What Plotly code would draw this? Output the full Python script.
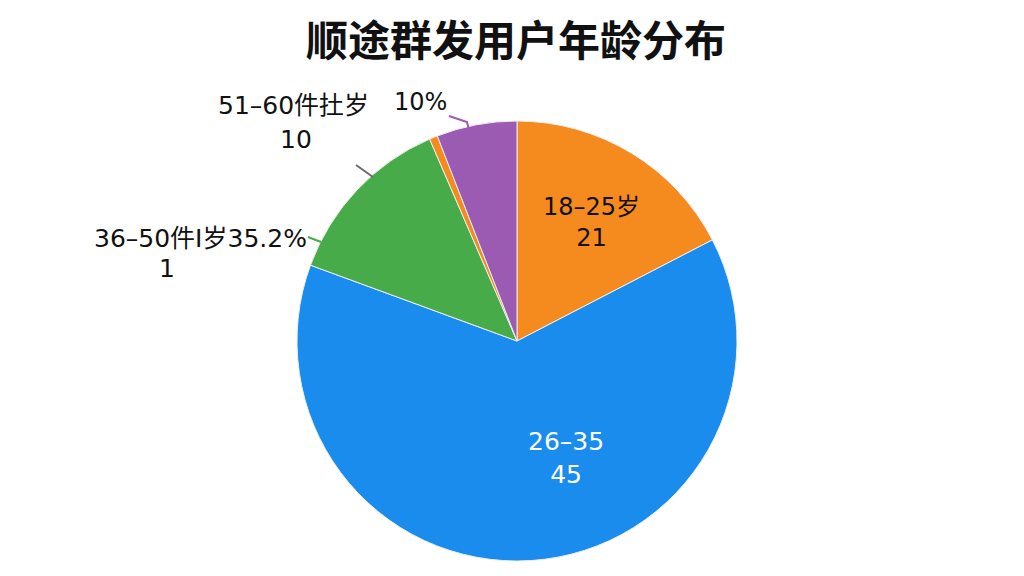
import plotly.graph_objects as go

# slices clockwise from 12 o'clock, shares
age_groups = ["18-25岁", "26-35", "36-50岁", "51-60岁", "其他"]
shares = [17.4, 63.2, 12.9, 0.6, 5.9]
colors = ["#F58A1F", "#1A8CEE", "#47AB4A", "#F58A1F", "#9C5BB3"]

W, H = 1024, 576
OFF = 8  # page body margin of the browser
FONT = "DejaVu Sans, Noto Sans CJK SC"


def px(x, y):
    # screen pixel -> paper coordinates
    return (x - OFF) / W, 1 - (y - OFF) / H


cx, cy, r = 517, 341, 220
x0, y1 = px(cx - r, cy - r)
x1, y0 = px(cx + r, cy + r)

fig = go.Figure(go.Pie(
    labels=age_groups, values=shares,
    sort=False, direction="clockwise", rotation=0,
    textinfo="none",
    marker=dict(colors=colors, line=dict(color="#eeeeee", width=1)),
    domain=dict(x=[x0, x1], y=[y0, y1]),
    showlegend=False, hoverinfo="label+percent",
))

# slice labels: (text, x, y, size, colour)
labels = [
    ("18–25岁<br>21", 591, 223, 24, "#111111"),
    ("26–35<br>45", 566, 458, 25, "#ffffff"),
    ("51–60件扗岁", 293, 105, 25, "#111111"), ("10", 296, 140, 25, "#111111"),
    ("10%", 420, 102, 24, "#111111"),
    ("36–50件I岁35.2%", 200, 238, 25, "#111111"), ("1", 167, 268, 25, "#111111"),
]
for txt, x, y, s, c in labels:
    ax, ay = px(x, y)
    fig.add_annotation(text=txt, x=ax, y=ay, xref="paper", yref="paper", showarrow=False,
                       xanchor="center", yanchor="middle",
                       font=dict(family=FONT, size=s, color=c))

leaders = [
    ([356, 373], [165, 177], "#6b6b6b"),
    ([449, 467, 469], [116, 122, 130], "#9C5BB3"),
    ([308, 321], [237, 242], "#47AB4A"),
]
for xs, ys, c in leaders:
    pts = [px(x, y) for x, y in zip(xs, ys)]
    path = "M " + " L ".join(f"{a},{b}" for a, b in pts)
    fig.add_shape(type="path", path=path, xref="paper", yref="paper", line=dict(color=c, width=2))

tx, ty = px(516, 41)
fig.update_layout(
    width=W, height=H, margin=dict(l=0, r=0, t=0, b=0),
    paper_bgcolor="white", plot_bgcolor="white",
    title=dict(text="顺途群发用户年龄分布", x=tx, xanchor="center", y=ty, yanchor="middle",
               font=dict(family="Noto Sans CJK SC", size=42, color="#111111", weight=700)),
)

fig.write_html("out.html")
